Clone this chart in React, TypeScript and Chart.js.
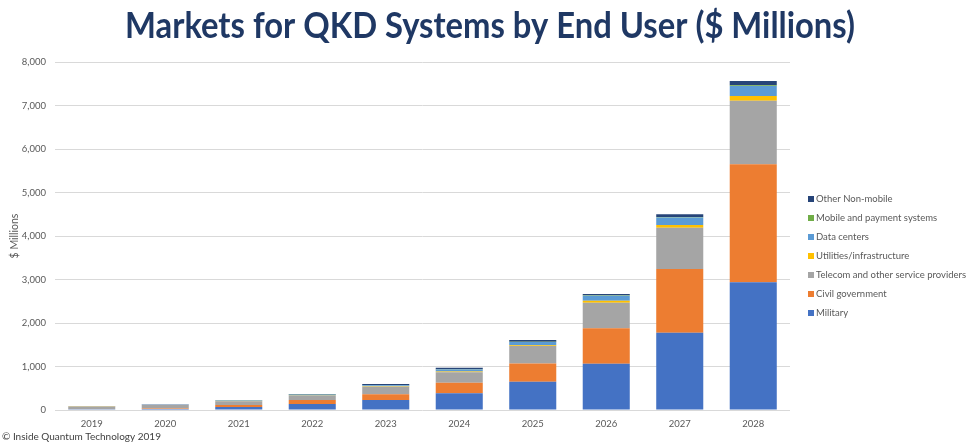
import React, { useEffect, useRef } from "react";
import { Chart, registerables } from "chart.js";

Chart.register(...registerables);

const TITLE = "Markets for QKD Systems by End User ($ Millions)";
const FOOTER = "\u00A9 Inside Quantum Technology 2019";
const Y_TITLE = "$ Millions";

const years = ["2019", "2020", "2021", "2022", "2023", "2024", "2025", "2026", "2027", "2028"];
const military = [15, 22, 69, 138, 230, 383, 650, 1065, 1778, 2935];
const civilGovernment = [5, 10, 46, 92, 130, 245, 421, 813, 1463, 2713];
const telecom = [57, 88, 85, 95, 175, 238, 400, 590, 950, 1460];
const utilities = [2, 3, 5, 8, 10, 20, 15, 45, 60, 110];
const dataCenters = [3, 4, 10, 20, 25, 46, 77, 115, 175, 230];
const mobilePayment = [1, 1, 2, 3, 5, 5, 8, 10, 12, 15];
const otherNonMobile = [2, 2, 6, 12, 20, 33, 38, 30, 60, 100];

const seriesNames = [
  "Military",
  "Civil government",
  "Telecom and other service providers",
  "Utilities/infrastructure",
  "Data centers",
  "Mobile and payment systems",
  "Other Non-mobile",
];
const seriesColors = ["#4472C4", "#ED7D31", "#A5A5A5", "#FFC000", "#5B9BD5", "#70AD47", "#264478"];
const seriesValues = [military, civilGovernment, telecom, utilities, dataCenters, mobilePayment, otherNonMobile];

const yMax = 8000;
const yStep = 1000;

const decorPlugin = {
  id: "decor",
  afterDraw(chart: any) {
    const ctx = chart.ctx as CanvasRenderingContext2D;
    // Title
    ctx.save();
    ctx.font = "bold 36px Lato";
    const w = ctx.measureText(TITLE).width;
    const sx = 730 / w;
    ctx.translate(490, 38);
    ctx.scale(sx, 1);
    ctx.fillStyle = "#1F3864";
    ctx.textAlign = "center";
    ctx.textBaseline = "alphabetic";
    ctx.fillText(TITLE, 0, 0);
    ctx.restore();

    // Legend (reverse order)
    ctx.save();
    ctx.font = "9.5px Lato";
    ctx.textBaseline = "middle";
    ctx.textAlign = "left";
    const ds = chart.data.datasets;
    for (let i = 0; i < ds.length; i++) {
      const d = ds[ds.length - 1 - i];
      const y = 199 + i * 19;
      ctx.fillStyle = d.backgroundColor;
      ctx.fillRect(808, y - 3, 6, 6);
      ctx.fillStyle = "#595959";
      ctx.fillText(d.label, 816, y);
    }
    ctx.restore();

    // Footer
    ctx.save();
    ctx.font = "10px Lato";
    ctx.fillStyle = "#404040";
    ctx.textBaseline = "alphabetic";
    ctx.textAlign = "left";
    ctx.fillText(FOOTER, 2, 440);
    ctx.restore();
  },
};

export default function App() {
  const ref = useRef<HTMLCanvasElement | null>(null);
  useEffect(() => {
    if (!ref.current) return;
    const chart = new Chart(ref.current, {
      type: "bar",
      data: {
        labels: years,
        datasets: seriesNames.map((name, i) => ({
          label: name,
          data: seriesValues[i],
          backgroundColor: seriesColors[i],
          borderWidth: 0,
          barPercentage: 0.64,
          categoryPercentage: 1,
        })),
      },
      options: {
        responsive: false,
        animation: false,
        devicePixelRatio: 1,
        layout: { padding: { left: 0, right: 176, top: 62, bottom: 0 } },
        plugins: {
          legend: { display: false },
          title: { display: false },
          tooltip: { enabled: false },
        },
        scales: {
          x: {
            stacked: true,
            grid: { display: false, drawTicks: false },
            border: { display: false },
            ticks: {
              padding: 8,
              color: "#595959",
              font: { family: "Lato", size: 9.5 },
            },
            afterFit(scale: any) {
              scale.height = 32;
            },
          },
          y: {
            stacked: true,
            min: 0,
            max: yMax,
            grid: { color: "#D9D9D9", lineWidth: 1, drawTicks: false },
            border: { display: false },
            ticks: {
              stepSize: yStep,
              padding: 9,
              color: "#595959",
              font: { family: "Lato", size: 9.5 },
              callback: (v: any) => Number(v).toLocaleString("en-US"),
            },
            title: {
              display: true,
              text: Y_TITLE,
              color: "#595959",
              font: { family: "Lato", size: 10.5 },
              padding: { top: 8, bottom: 0 },
            },
            afterFit(scale: any) {
              scale.width = 55;
            },
          },
        },
      },
      plugins: [decorPlugin],
    });
    return () => chart.destroy();
  }, []);
  return (
    <div style={{ position: "absolute", left: 0, top: 0, width: 966, height: 442, background: "#fff" }}>
      <canvas ref={ref} width={966} height={442} style={{ width: 966, height: 442, display: "block" }} />
    </div>
  );
}
